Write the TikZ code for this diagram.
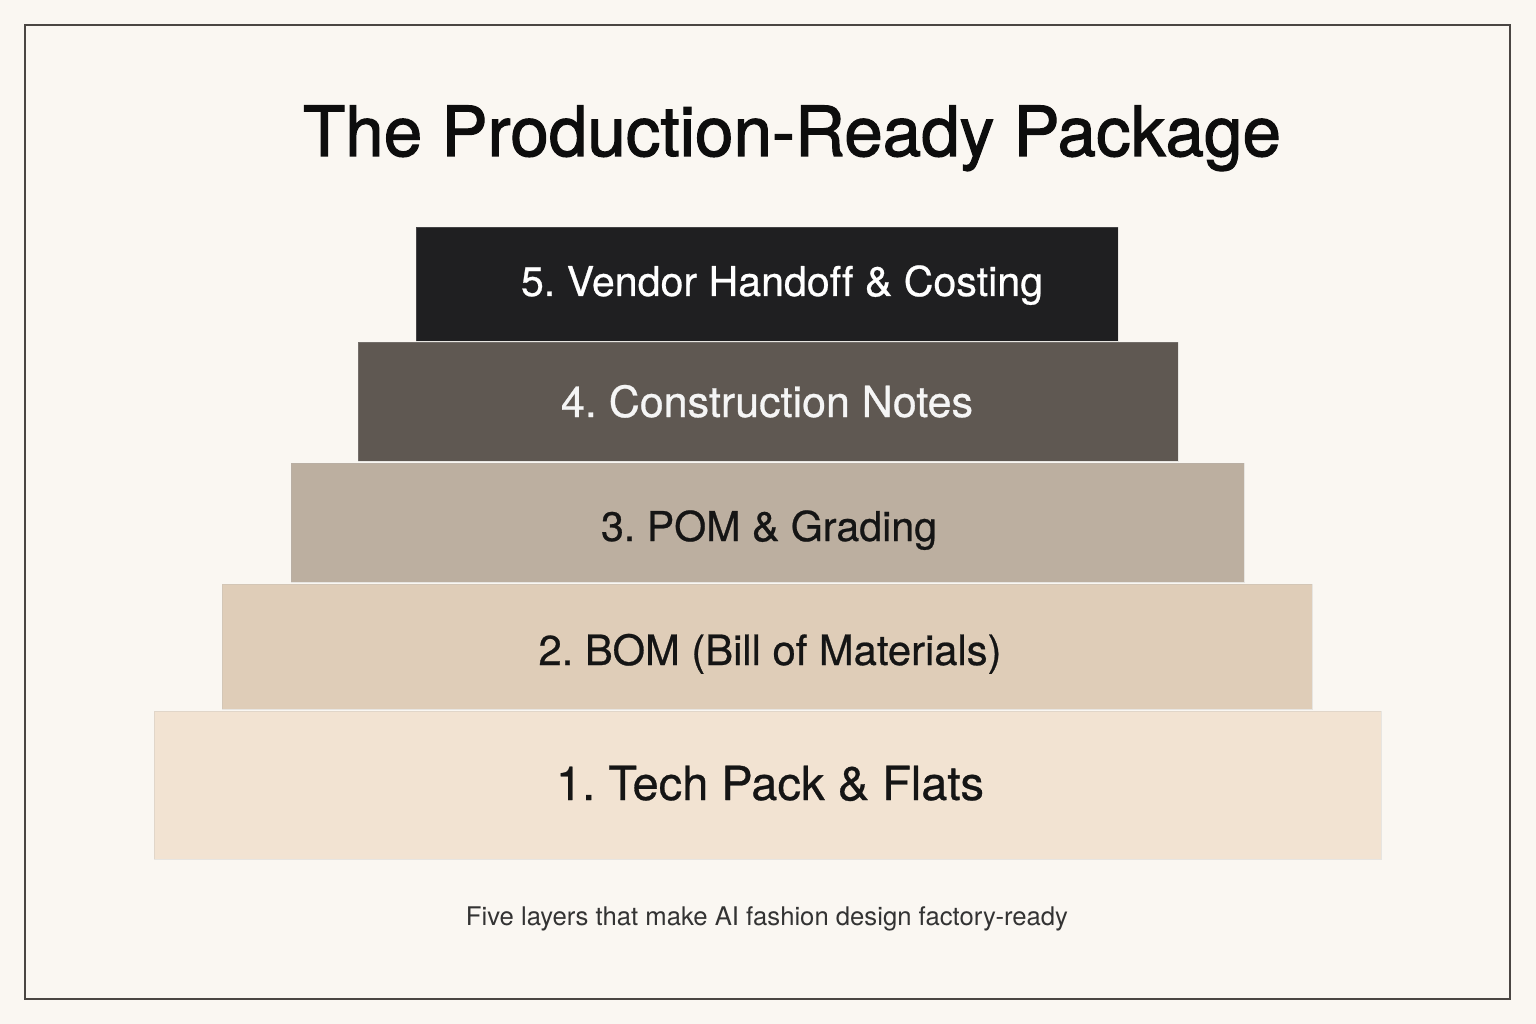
\documentclass[tikz,border=0pt]{standalone}
\usepackage{fontspec}
\usepackage{graphicx}
\setmainfont{TeX Gyre Heros}[Ligatures=NoCommon]
\newfontfamily\titlefont{TeX Gyre Heros}[Ligatures=NoCommon,FakeBold=1.6]
\newfontfamily\labelfont{TeX Gyre Heros}[Ligatures=NoCommon,FakeBold=0.6]
\frenchspacing
\definecolor{bgc}{HTML}{FAF7F2}
\definecolor{framec}{HTML}{4A4643}
\definecolor{cfive}{HTML}{1F1F21}
\definecolor{cfour}{HTML}{5F5852}
\definecolor{cthree}{HTML}{BCAFA0}
\definecolor{ctwo}{HTML}{DFCDB8}
\definecolor{cone}{HTML}{F2E3D2}
\definecolor{inkc}{HTML}{151515}
\newcommand{\fitw}[2]{\resizebox{#1}{!}{\fontsize{40}{48}\selectfont #2}}
\begin{document}
\begin{tikzpicture}[x=1pt,y=-1pt,
  layer/.style={draw=white!70!black, draw opacity=0.25, line width=0.8pt, inner sep=0pt},
  lbl/.style={anchor=base, inner sep=0pt}]
\fill[bgc] (0,0) rectangle (1536,1024);
\useasboundingbox (0,0) rectangle (1536,1024);
\node[draw=framec, line width=1.6pt, inner sep=0pt, minimum width=1485pt, minimum height=974pt] (frame) at (767.5,512) {};
\node[lbl, text=black!95] (title) at (792,156) {\fitw{978pt}{\titlefont The Production-Ready Package}};
\node[layer, fill=cone, minimum width=1227pt, minimum height=148pt] (l1) at (767.5,785) {};
\node[layer, fill=ctwo, minimum width=1090pt, minimum height=125pt] (l2) at (767,646.5) {};
\node[layer, fill=cthree, minimum width=953pt, minimum height=119pt] (l3) at (767.5,522.5) {};
\node[layer, fill=cfour, minimum width=820pt, minimum height=119pt] (l4) at (768,401.5) {};
\node[layer, fill=cfive, minimum width=702pt, minimum height=114pt] (l5) at (767,284) {};
\node[lbl, text=white] (t5) at (782,296) {\fitw{522pt}{\labelfont 5. Vendor Handoff \& Costing}};
\node[lbl, text=white!96!black] (t4) at (767,417) {\fitw{412pt}{\labelfont 4. Construction Notes}};
\node[lbl, text=inkc] (t3) at (769,541) {\fitw{336pt}{\labelfont 3. POM \& Grading}};
\node[lbl, text=inkc] (t2) at (770,665) {\fitw{463pt}{\labelfont 2. BOM (Bill of Materials)}};
\node[lbl, text=inkc] (t1) at (770,800) {\fitw{428pt}{\labelfont 1. Tech Pack \& Flats}};
\node[lbl, text=black!80] (sub) at (767,925) {\fitw{602pt}{Five layers that make AI fashion design factory-ready}};
\end{tikzpicture}
\end{document}
